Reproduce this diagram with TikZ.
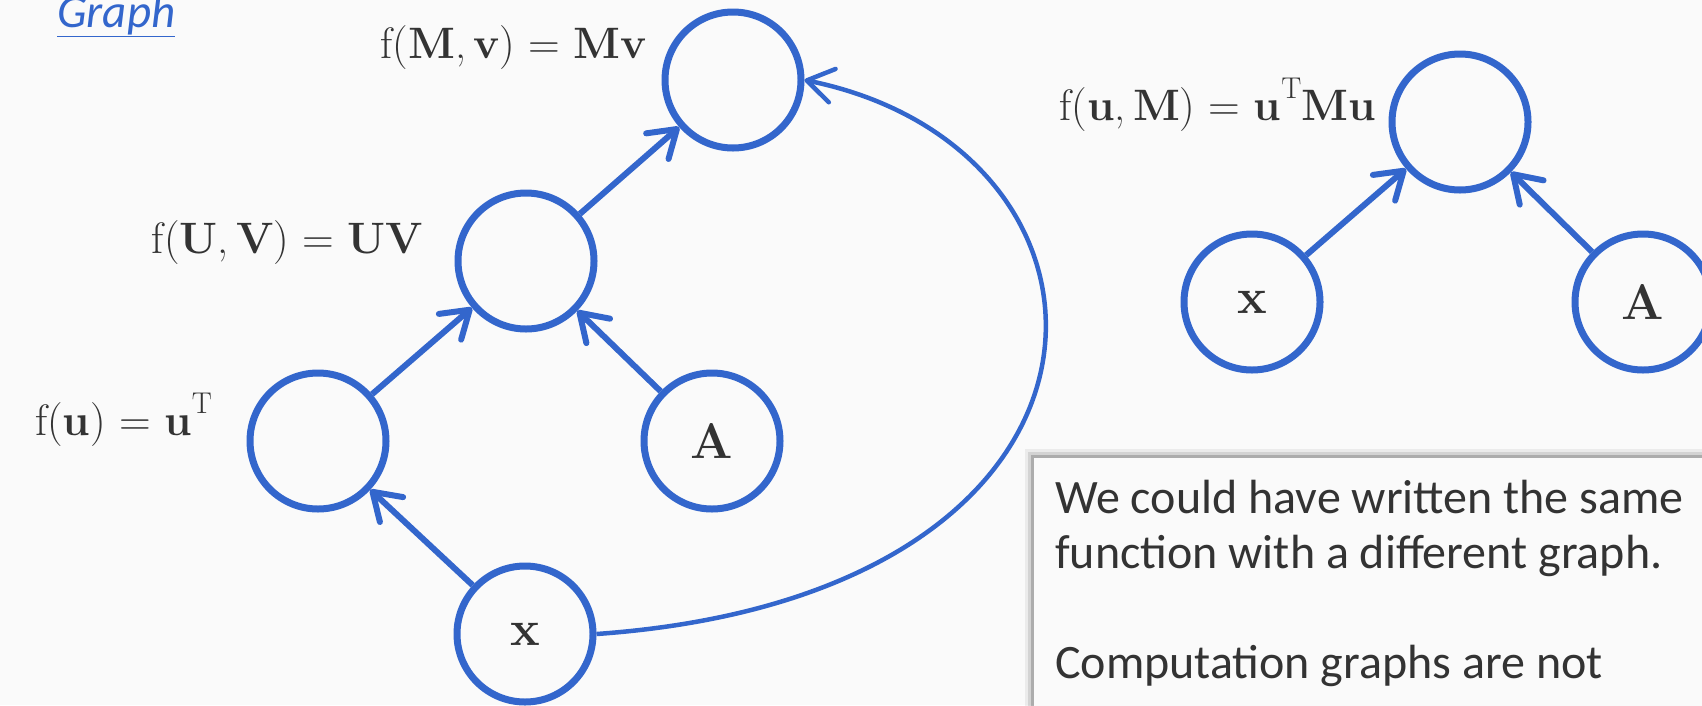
\documentclass[tikz,border=0pt]{standalone}
\usepackage{fontspec}
\newfontfamily\notefont{Carlito}
\usetikzlibrary{arrows.meta,shadows}
\definecolor{gblue}{RGB}{51,102,204}
\definecolor{ink}{RGB}{51,51,51}
\definecolor{paper}{RGB}{250,250,250}
\newcommand\supT{\raisebox{.48em}{\fontsize{30}{30}\selectfont T}}

\begin{document}
\begin{tikzpicture}[
    x=1pt, y=-1pt,
    every node/.style={text=ink},
    op/.style={circle,draw=gblue,line width=7pt,minimum size=136pt,inner sep=0pt,
        font=\bfseries\fontsize{50}{56}\selectfont},
    lbl/.style={anchor=base east,inner sep=0pt,font=\fontsize{44}{50}\selectfont},
    edge/.style={->,draw=gblue,line width=6pt},
    >={Straight Barb[length=26pt,width=34pt,round]}]
    \useasboundingbox (0,0) rectangle (1702,705);
    \clip (0,0) rectangle (1702,705);
    \fill[paper] (0,0) rectangle (1702,705);

    \node[anchor=base west,inner sep=0pt,text=gblue,
        font=\notefont\itshape\fontsize{47}{50}\selectfont] (title) at (57,27) {\underline{Graph}};

    \node[op] (mv) at (733,80) {};
    \node[op] (uv) at (526,261) {};
    \node[op] (ut) at (318,441) {};
    \node[op] (a) at (712,441) {A};
    \node[op] (x) at (525,634) {x};
    \node[lbl] (mvlbl) at (647,58) {f(\textbf{M},\,\textbf{v}) = \textbf{Mv}};
    \node[lbl] (uvlbl) at (423,253) {f(\textbf{U},\,\textbf{V}) = \textbf{UV}};
    \node[lbl] (utlbl) at (212,435) {f(\textbf{u}) = \textbf{u}\supT};
    \draw[edge] (ut) -- (uv);
    \draw[edge] (uv) -- (mv);
    \draw[edge] (x) -- (ut);
    \draw[edge] (a) -- (uv);
    \draw[edge,line width=4.5pt] (x.east) .. controls +(563,-40) and +(345,70) .. (mv.east);

    \node[op] (q) at (1460,122) {};
    \node[op] (qx) at (1252,302) {x};
    \node[op] (qa) at (1643,302) {A};
    \node[lbl] (qlbl) at (1376,120) {f(\textbf{u},\,\textbf{M}) = \textbf{u}\supT\textbf{Mu}};
    \draw[edge] (qx) -- (q);
    \draw[edge] (qa) -- (q);

    \node[anchor=north west,fill=paper,minimum width=720pt,minimum height=280pt,
        drop shadow={shadow xshift=-9pt,shadow yshift=9pt,fill=black,opacity=.06},
        drop shadow={shadow xshift=-6pt,shadow yshift=6pt,fill=black,opacity=.1},
        drop shadow={shadow xshift=-3pt,shadow yshift=3pt,fill=black,opacity=.18}] (box) at (1034,458) {};
    \node[anchor=north west,inner sep=0pt,align=left,
        font=\notefont\fontsize{48}{55}\selectfont] (note) at (1055,480)
        {We could have written the same\\function with a different graph.\\[55pt]Computation graphs are not};
\end{tikzpicture}
\end{document}
